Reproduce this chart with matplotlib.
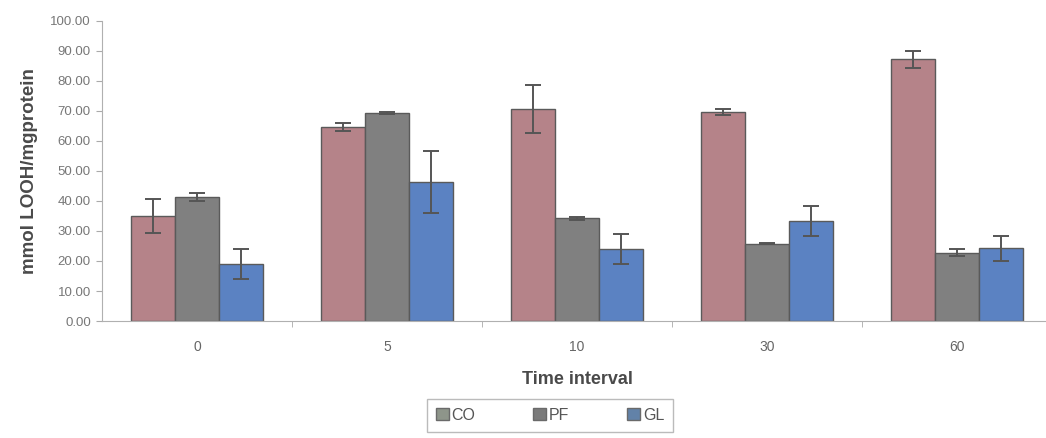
import numpy as np
import matplotlib.pyplot as plt
from matplotlib.patches import Patch

plt.rcParams['font.family'] = ['Liberation Sans', 'DejaVu Sans']

# time points and group means / errors
time_labels = ['0', '5', '10', '30', '60']
co_vals = [35.0, 64.7, 70.5, 69.7, 87.2]
co_err = [5.6, 1.3, 8.0, 1.0, 2.8]
pf_vals = [41.4, 69.3, 34.2, 25.8, 22.8]
pf_err = [1.4, 0.3, 0.4, 0.3, 1.2]
gl_vals = [18.9, 46.3, 23.9, 33.4, 24.2]
gl_err = [5.0, 10.4, 5.0, 5.0, 4.1]

series = [
    ('CO', co_vals, co_err, '#b58389'),
    ('PF', pf_vals, pf_err, '#808080'),
    ('GL', gl_vals, gl_err, '#5b82c2'),
]
legend_colors = ['#8e958a', '#7b7b7b', '#6282a8']

fig = plt.figure(figsize=(10.46, 4.38), dpi=100)
ax = fig.add_axes([102 / 1046, 0.267, 950 / 1046, 0.6857])

x = np.arange(len(time_labels))
w = 0.23
for i, (name, vals, err, col) in enumerate(series):
    ax.bar(x + (i - 1) * w, vals, w, color=col, edgecolor='#5a5a5a',
           linewidth=1.0, zorder=2)
    ax.errorbar(x + (i - 1) * w, vals, yerr=err, fmt='none',
                ecolor='#555555', elinewidth=1.4, capsize=6, capthick=1.4,
                zorder=3)

ax.set_xlim(-0.5, 4.5)
ax.set_ylim(0, 100)
ax.set_yticks(np.arange(0, 101, 10))
ax.set_yticklabels([f'{v:.2f}' for v in range(0, 101, 10)])
ax.set_xticks(x)
ax.set_xticklabels(time_labels)
ax.set_xticks(np.arange(0.5, 4.5, 1), minor=True)
ax.tick_params(axis='x', which='major', length=0, pad=14,
               labelsize=10, labelcolor='#666666')
ax.tick_params(axis='x', which='minor', length=4, color='#aaaaaa')
ax.tick_params(axis='y', length=4, color='#aaaaaa', labelsize=9.5,
               labelcolor='#777777', pad=4)

for side in ['top', 'right']:
    ax.spines[side].set_visible(False)
ax.spines['left'].set_color('#b0b0b0')
ax.spines['bottom'].set_color('#b0b0b0')

ax.set_ylabel('mmol LOOH/mgprotein', fontsize=13.5, fontweight='bold',
              color='#4a4a4a', labelpad=9)
ax.set_xlabel('Time interval', fontsize=13, fontweight='bold',
              color='#4a4a4a', labelpad=12)

handles = [Patch(facecolor=c, edgecolor='#6a6a6a', label=s[0])
           for c, s in zip(legend_colors, series)]
leg = fig.legend(handles=handles, loc='center', ncol=3,
                 bbox_to_anchor=(550 / 1046, 0.052), frameon=True,
                 fancybox=False, edgecolor='#aaaaaa', fontsize=11.5,
                 handlelength=0.8, handleheight=0.8, handletextpad=0.2,
                 columnspacing=3.6, borderpad=0.55)
for t in leg.get_texts():
    t.set_color('#555555')

fig.savefig('out.png', dpi=100, facecolor='white')
